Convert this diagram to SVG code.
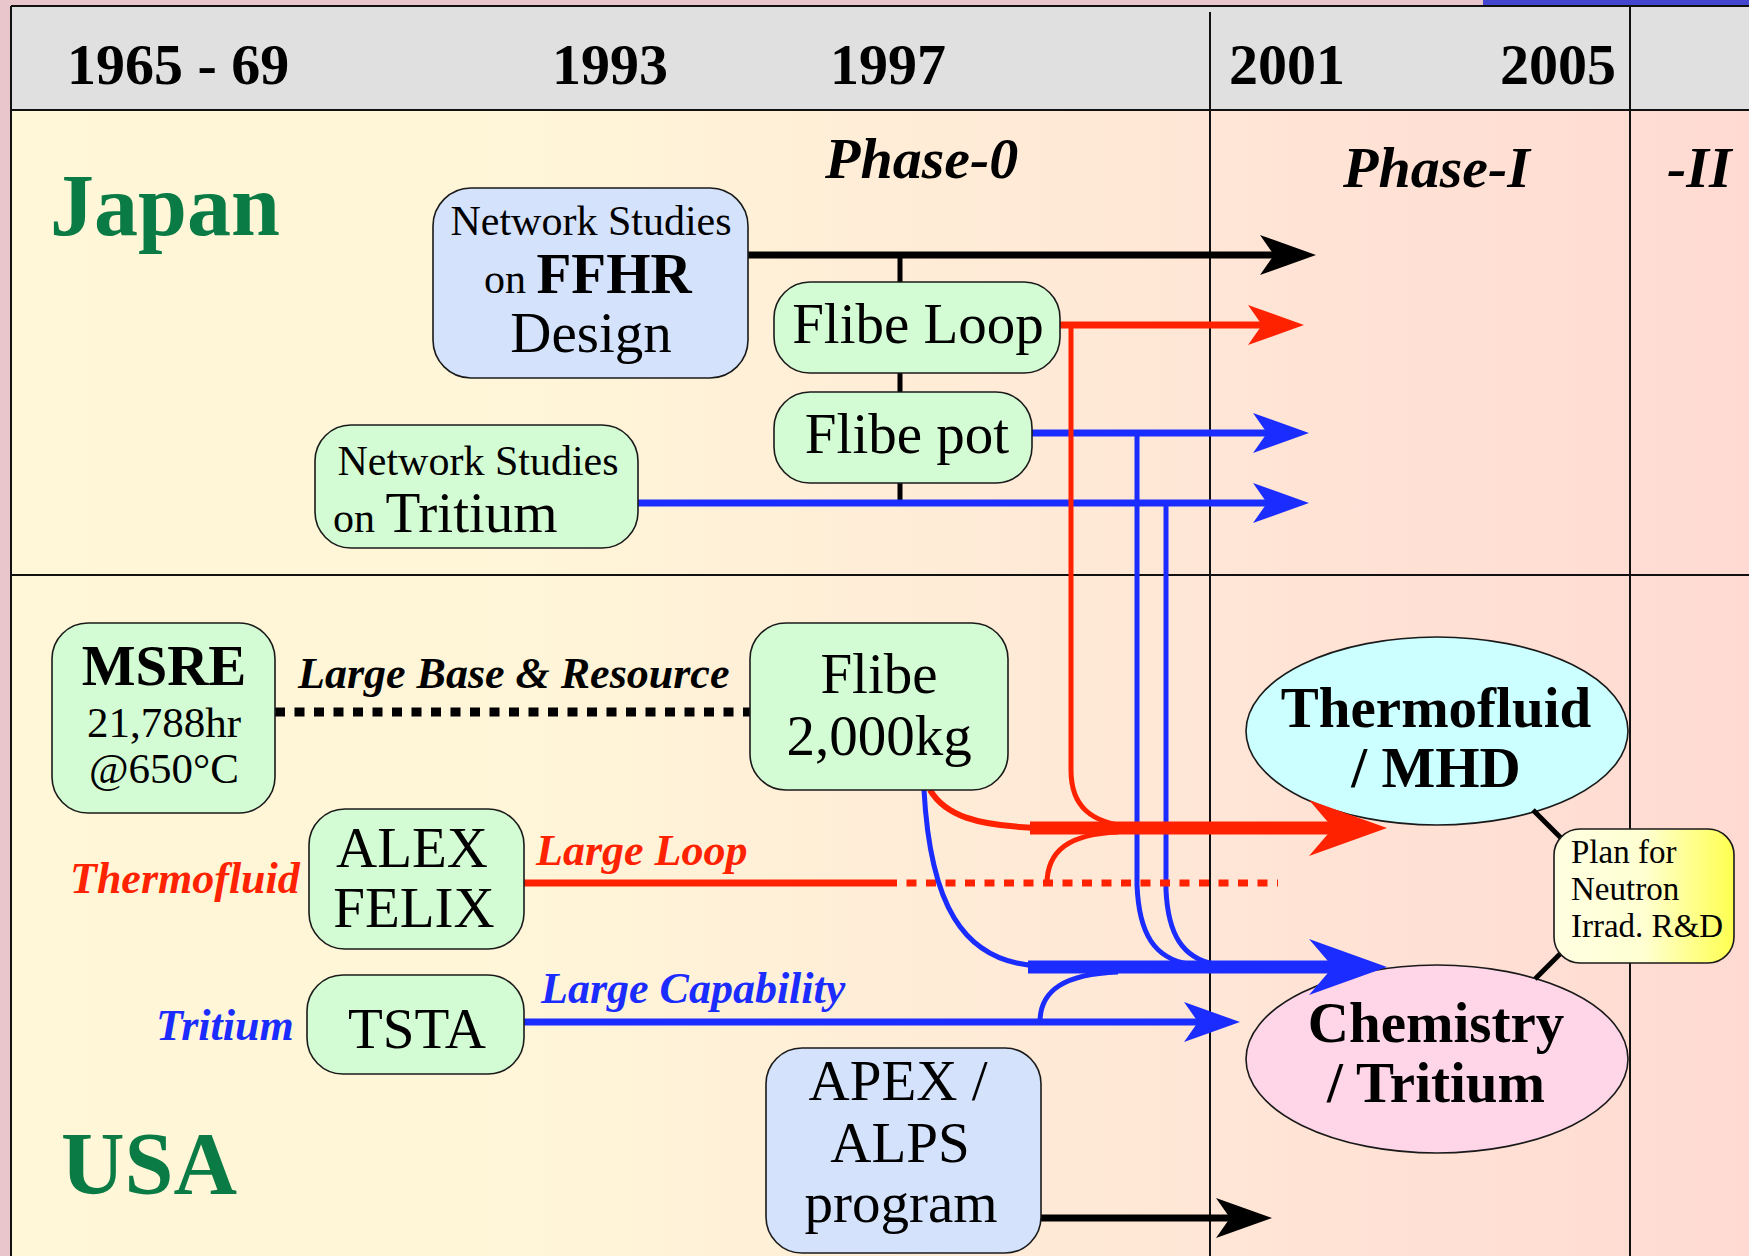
<svg xmlns="http://www.w3.org/2000/svg" width="1749" height="1256" viewBox="0 0 1749 1256">
<defs>
<linearGradient id="bodyGrad" gradientUnits="userSpaceOnUse" x1="11" y1="0" x2="1749" y2="0">
<stop offset="0" stop-color="#fff7d8"/>
<stop offset="0.3" stop-color="#fff5d8"/>
<stop offset="0.69" stop-color="#ffe6d6"/>
<stop offset="1" stop-color="#ffdad2"/>
</linearGradient>
<linearGradient id="yelGrad" x1="0" y1="0" x2="1" y2="0">
<stop offset="0" stop-color="#ffffe2"/>
<stop offset="0.5" stop-color="#ffffd2"/>
<stop offset="1" stop-color="#ffff50"/>
</linearGradient>
<marker id="arBlack" markerUnits="userSpaceOnUse" viewBox="-16 -22 60 44" markerWidth="60" markerHeight="44" refX="0" refY="0" orient="auto" overflow="visible">
<path d="M42,0 L-14,-20 L0,0 L-14,20 Z" fill="#000"/>
</marker>
<marker id="arRed" markerUnits="userSpaceOnUse" viewBox="-16 -22 60 44" markerWidth="60" markerHeight="44" refX="0" refY="0" orient="auto" overflow="visible">
<path d="M42,0 L-14,-20 L0,0 L-14,20 Z" fill="#ff2200"/>
</marker>
<marker id="arBlue" markerUnits="userSpaceOnUse" viewBox="-16 -22 60 44" markerWidth="60" markerHeight="44" refX="0" refY="0" orient="auto" overflow="visible">
<path d="M42,0 L-14,-20 L0,0 L-14,20 Z" fill="#1a2cff"/>
</marker>
<marker id="arRedBig" markerUnits="userSpaceOnUse" viewBox="-28 -30 84 60" markerWidth="84" markerHeight="60" refX="0" refY="0" orient="auto" overflow="visible">
<path d="M54,0 L-24,-28 L0,0 L-24,28 Z" fill="#ff2200"/>
</marker>
<marker id="arBlueBig" markerUnits="userSpaceOnUse" viewBox="-28 -30 84 60" markerWidth="84" markerHeight="60" refX="0" refY="0" orient="auto" overflow="visible">
<path d="M54,0 L-24,-28 L0,0 L-24,28 Z" fill="#1a2cff"/>
</marker>
</defs>
<style>
text { font-family: "Liberation Serif", "Times New Roman", serif; fill: #000; }
.yr { font-size: 58px; font-weight: bold; }
.ph { font-size: 58px; font-weight: bold; font-style: italic; }
.ctry { font-size: 88px; font-weight: bold; fill: #0b7b45; }
.n57 { font-size: 57px; }
.n42 { font-size: 42px; }
.n43 { font-size: 43px; }
.b57 { font-size: 57px; font-weight: bold; }
.lab { font-size: 44px; font-weight: bold; font-style: italic; }
.red { fill: #ff2200; }
.blu { fill: #1a2cff; }
.sm { font-size: 33px; }
.mid { text-anchor: middle; }
.box { stroke: #1a1a1a; stroke-width: 1.6; }
.green { fill: #d4fcd4; }
.blue { fill: #d4e2fc; }
.grid { stroke: #111; stroke-width: 2; fill: none; }
.ln { fill: none; stroke-linecap: butt; }
</style>

<!-- background -->
<rect x="0" y="0" width="1749" height="1256" fill="#e9c6cb"/>
<rect x="1483" y="0" width="266" height="6" fill="#4347d0"/>
<rect x="11" y="6" width="1738" height="1250" fill="url(#bodyGrad)"/>
<rect x="11" y="6" width="1738" height="104" fill="#e0e0e0"/>
<g id="grid">
<line class="grid" x1="11" y1="6" x2="1749" y2="6"/>
<line class="grid" x1="11" y1="6" x2="11" y2="1256"/>
<line class="grid" x1="11" y1="110" x2="1749" y2="110"/>
<line class="grid" x1="11" y1="575" x2="1749" y2="575"/>
<line class="grid" x1="1210" y1="12" x2="1210" y2="1256" stroke-width="1.6"/>
<line class="grid" x1="1630" y1="6" x2="1630" y2="1256" stroke-width="1.6"/>
</g>

<g id="header">
<text class="yr" x="67" y="84">1965 - 69</text>
<text class="yr" x="552" y="84">1993</text>
<text class="yr" x="830" y="84">1997</text>
<text class="yr" x="1229" y="84">2001</text>
<text class="yr" x="1500" y="84">2005</text>
<text class="ph" x="825" y="178">Phase-0</text>
<text class="ph" x="1343" y="187">Phase-I</text>
<text class="ph" x="1667" y="187">-II</text>
<text class="ctry" x="50" y="235">Japan</text>
<text class="ctry" x="61" y="1193">USA</text>
</g>

<g id="ellipses">
<g id="thermofluid-mhd">
<ellipse class="box" cx="1437" cy="731" rx="191" ry="94" fill="#ccffff"/>
<text class="b57 mid" x="1436" y="727">Thermofluid</text>
<text class="b57 mid" x="1436" y="787">/ MHD</text>
</g>
<g id="chemistry-tritium">
<ellipse class="box" cx="1437" cy="1059" rx="191" ry="94" fill="#ffd6e8"/>
<text class="b57 mid" x="1436" y="1042">Chemistry</text>
<text class="b57 mid" x="1436" y="1102">/ Tritium</text>
</g>
</g>

<g id="connectors">
<!-- Japan black trunk -->
<path class="ln" d="M900,255 V282 M900,373 V392 M900,483 V503" stroke="#000" stroke-width="5"/>
<line class="ln" x1="748" y1="255" x2="1274" y2="255" stroke="#000" stroke-width="7" marker-end="url(#arBlack)"/>
<line class="ln" x1="1060" y1="325" x2="1262" y2="325" stroke="#ff2200" stroke-width="7" marker-end="url(#arRed)"/>
<line class="ln" x1="1032" y1="433" x2="1267" y2="433" stroke="#1a2cff" stroke-width="7" marker-end="url(#arBlue)"/>
<line class="ln" x1="638" y1="503" x2="1267" y2="503" stroke="#1a2cff" stroke-width="7" marker-end="url(#arBlue)"/>
<!-- drops -->
<path class="ln" d="M1071,325 L1071,770 C1071,806 1090,823 1132,827" stroke="#ff2200" stroke-width="5"/>
<path class="ln" d="M1137,433 L1137,885 C1139,935 1155,958 1188,964" stroke="#1a2cff" stroke-width="5"/>
<path class="ln" d="M1166,503 L1166,890 C1168,935 1183,958 1214,964" stroke="#1a2cff" stroke-width="5"/>
<!-- MSRE dotted -->
<line class="ln" x1="275" y1="712" x2="750" y2="712" stroke="#000" stroke-width="9" stroke-dasharray="10 9.5"/>
<!-- ALEX line -->
<line class="ln" x1="524" y1="883" x2="887" y2="883" stroke="#ff2200" stroke-width="7"/>
<line class="ln" x1="887" y1="883" x2="1278" y2="883" stroke="#ff2200" stroke-width="7" stroke-dasharray="10 9.5"/>
<path class="ln" d="M1047,884 C1047,850 1070,834 1118,832" stroke="#ff2200" stroke-width="5"/>
<!-- Flibe curves -->
<path class="ln" d="M930,790 C945,815 975,826 1040,828" stroke="#ff2200" stroke-width="6"/>
<path class="ln" d="M924,790 C930,900 960,963 1040,966" stroke="#1a2cff" stroke-width="5"/>
<!-- thick arrows -->
<line class="ln" x1="1030" y1="828" x2="1333" y2="828" stroke="#ff2200" stroke-width="13" marker-end="url(#arRedBig)"/>
<line class="ln" x1="1028" y1="967" x2="1333" y2="967" stroke="#1a2cff" stroke-width="13" marker-end="url(#arBlueBig)"/>
<!-- TSTA -->
<line class="ln" x1="524" y1="1022" x2="1198" y2="1022" stroke="#1a2cff" stroke-width="7" marker-end="url(#arBlue)"/>
<path class="ln" d="M1040,1022 C1040,990 1065,974 1118,972" stroke="#1a2cff" stroke-width="5"/>
<!-- APEX -->
<line class="ln" x1="1041" y1="1218" x2="1230" y2="1218" stroke="#000" stroke-width="7" marker-end="url(#arBlack)"/>
<!-- plan links -->
<line class="ln" x1="1533" y1="810" x2="1563" y2="840" stroke="#000" stroke-width="5"/>
<line class="ln" x1="1562" y1="952" x2="1535" y2="979" stroke="#000" stroke-width="5"/>
</g>

<g id="ffhr">
<rect class="box blue" x="433" y="188" width="315" height="190" rx="38"/>
<text class="n42 mid" x="591" y="235">Network Studies</text>
<text x="484" y="293"><tspan class="n42">on </tspan><tspan class="b57">FFHR</tspan></text>
<text class="n57 mid" x="591" y="352">Design</text>
</g>
<g id="flibe-loop">
<rect class="box green" x="774" y="282" width="286" height="91" rx="36"/>
<text class="n57 mid" x="918" y="343">Flibe Loop</text>
</g>
<g id="flibe-pot">
<rect class="box green" x="774" y="392" width="258" height="91" rx="36"/>
<text class="n57 mid" x="907" y="453">Flibe pot</text>
</g>
<g id="ns-tritium">
<rect class="box green" x="315" y="425" width="323" height="123" rx="36"/>
<text class="n42 mid" x="478" y="475">Network Studies</text>
<text x="333" y="532"><tspan class="n42">on </tspan><tspan class="n57">Tritium</tspan></text>
</g>
<g id="msre">
<rect class="box green" x="52" y="623" width="223" height="190" rx="36"/>
<text class="b57 mid" x="164" y="685">MSRE</text>
<text class="n43 mid" x="164" y="737">21,788hr</text>
<text class="n43 mid" x="164" y="783">@650°C</text>
</g>
<g id="flibe-2000">
<rect class="box green" x="750" y="623" width="258" height="167" rx="36"/>
<text class="n57 mid" x="879" y="693">Flibe</text>
<text class="n57 mid" x="879" y="755">2,000kg</text>
</g>
<g id="alex-felix">
<rect class="box green" x="309" y="809" width="215" height="140" rx="36"/>
<text class="n57 mid" x="412" y="867">ALEX</text>
<text class="n57 mid" x="414" y="927">FELIX</text>
</g>
<g id="tsta">
<rect class="box green" x="307" y="975" width="217" height="99" rx="36"/>
<text class="n57 mid" x="417" y="1048">TSTA</text>
</g>
<g id="apex-alps">
<rect class="box blue" x="766" y="1048" width="275" height="205" rx="36"/>
<text class="n57 mid" x="898" y="1100">APEX /</text>
<text class="n57 mid" x="900" y="1162">ALPS</text>
<text class="n57 mid" x="901" y="1222">program</text>
</g>
<g id="plan-neutron">
<rect class="box" x="1554" y="829" width="180" height="134" rx="26" fill="url(#yelGrad)"/>
<text class="sm" x="1571" y="863">Plan for</text>
<text class="sm" x="1571" y="900">Neutron</text>
<text class="sm" x="1571" y="937">Irrad. R&amp;D</text>
</g>

<g id="labels">
<text class="lab" x="298" y="688">Large Base &amp; Resource</text>
<text class="lab red" x="70" y="893">Thermofluid</text>
<text class="lab red" x="536" y="865">Large Loop</text>
<text class="lab blu" x="156" y="1040">Tritium</text>
<text class="lab blu" x="541" y="1003">Large Capability</text>
</g>
</svg>
